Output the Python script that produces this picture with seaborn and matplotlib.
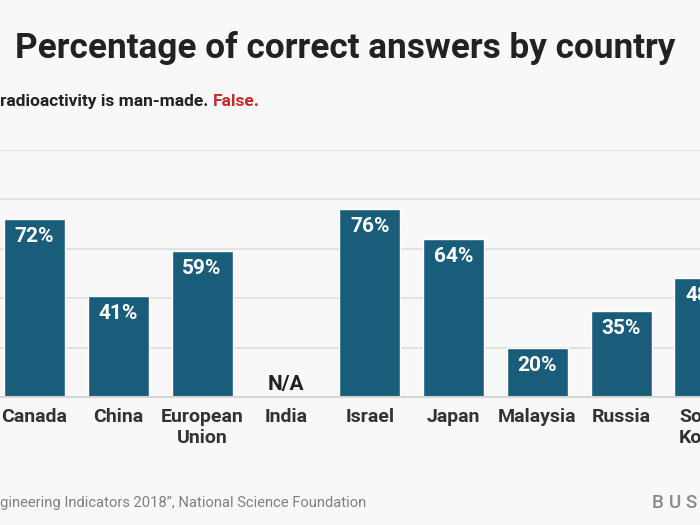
import numpy as np
import pandas as pd
import seaborn as sns
import matplotlib.pyplot as plt

# visible part of the chart
countries = ["Canada", "China", "European\nUnion", "India", "Israel",
             "Japan", "Malaysia", "Russia", "South\nKorea"]
correct_pct = [72, 41, 59, np.nan, 76, 64, 20, 35, 48]

title = "Percentage of correct answers by country"
question = "radioactivity is man-made."
answer = "False."
source = "gineering Indicators 2018\u201d, National Science Foundation"
logo = "BUS"

bar_color = "#1a5d7a"
bg = "#f8f8f8"


def plot_data(df):
    sns.set_theme(style="whitegrid")
    plt.rcParams["font.family"] = ["Roboto", "DejaVu Sans"]

    fig = plt.figure(figsize=(7, 5.25), dpi=100, facecolor=bg)
    # axes wider than the figure so the picture looks cropped like the original
    ax = fig.add_axes([-0.1, 0.2438, 1.2, 0.4705])
    ax.set_facecolor(bg)

    sns.barplot(ax=ax, x="country", y="pct", data=df, order=countries,
                color=bar_color, width=0.73, saturation=1, errorbar=None)

    ax.set_xlim(-1.247, 8.777)
    ax.set_ylim(0, 100)
    ax.set_yticks([0, 20, 40, 60, 80, 100])
    ax.set_yticklabels([])
    ax.grid(axis="y", color="#e3e3e3", linewidth=1.5)
    ax.grid(axis="x", visible=False)
    ax.set_axisbelow(True)
    for s in ["top", "right", "left"]:
        ax.spines[s].set_visible(False)
    ax.spines["bottom"].set_color("#d4d4d4")
    ax.spines["bottom"].set_linewidth(1.5)
    ax.set_xlabel("")
    ax.set_ylabel("")
    ax.tick_params(axis="x", length=0, pad=8, labelsize=14, labelcolor="#333333")
    ax.tick_params(axis="y", length=0)
    for lab in ax.get_xticklabels():
        lab.set_fontweight("bold")
        lab.set_linespacing(1.2)

    # value labels inside the bars
    for i, v in enumerate(df["pct"]):
        if np.isnan(v):
            ax.text(i, 5.0, "N/A", ha="center", va="center", fontsize=15,
                    fontweight="bold", color="#222222")
        else:
            ax.text(i, v - 7.1, f"{v:.0f}%", ha="center", va="center",
                    fontsize=15, fontweight="bold", color="white")

    fig.text(0.493, 0.908, title, ha="center", va="center", fontsize=25.3,
             fontweight="bold", color="#222222")
    t = fig.text(0.0, 0.806, question + " ", ha="left", va="center", fontsize=12.5,
                 fontweight="bold", color="#222222")
    fig.canvas.draw()
    bb = t.get_window_extent()
    fig.text(bb.x1 / fig.bbox.width, 0.806, answer, ha="left", va="center",
             fontsize=12.5, fontweight="bold", color="#c62a2a")

    fig.text(0.0, 0.042, source, ha="left", va="center", fontsize=10.65,
             color="#808080")
    # spaced-out logo letters
    for k, ch in enumerate(logo):
        fig.text((652 + 16.5 * k) / 700, 0.042, ch, ha="left", va="center",
                 fontsize=13.5, fontweight="medium", color="#8a8a8a")

    fig.savefig("out.png", dpi=100, facecolor=bg)


def main():
    df = pd.DataFrame({"country": countries, "pct": correct_pct})
    plot_data(df)


main()
